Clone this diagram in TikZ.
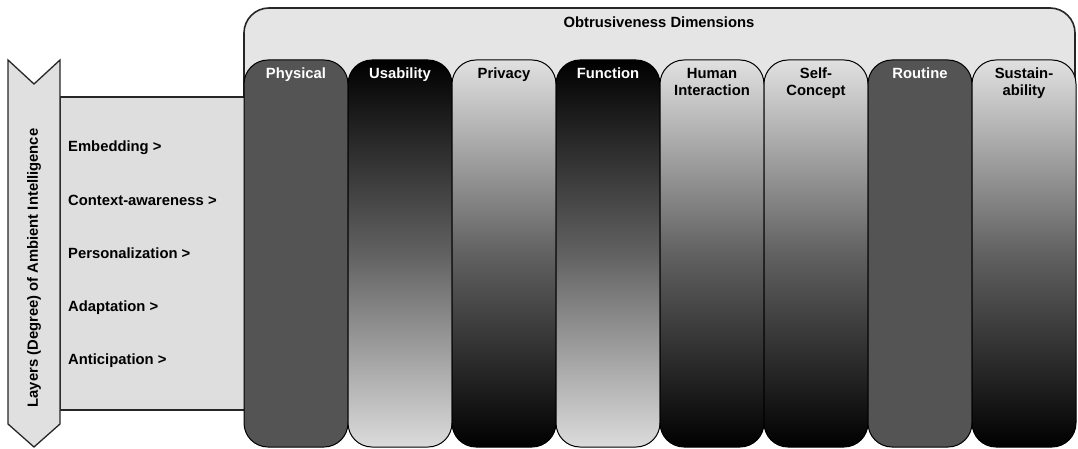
\documentclass[tikz,border=0pt]{standalone}
\usepackage{fontspec}
\setmainfont{Liberation Sans}
\usetikzlibrary{positioning}

\tikzset{
	lbl/.style={font=\bfseries\fontsize{14.8}{17}\selectfont, inner sep=0pt},
	frame/.style={draw=black!85, line width=1.6pt},
	darklight/.style={top color=black, bottom color=black!14, middle color=black!62},
	lightdark/.style={top color=black!12, bottom color=black, middle color=black!62},
	flat/.style={fill=black!67},
	column/.style={draw=black, line width=1pt, rounded corners=24pt}
}

\begin{document}
\begin{tikzpicture}[x=1pt, y=-1pt]
		
		\useasboundingbox (0,0) rectangle (1078,449);
		
		%Dimensions frame
		\draw[frame, fill=black!10, rounded corners=25pt] (244,8) rectangle (1075,400);
		\node[lbl] (title) at (659,22) {Obtrusiveness Dimensions};
		
		%Layers box and arrow
		\draw[frame, fill=black!13] (60,97) rectangle (250,410);
		\draw[draw=black!85, line width=1.3pt, fill=black!12] (8,60) -- (34,84) -- (60,60) 
		-- (60,424) -- (34,447) -- (8,424) -- cycle;
		\node[lbl, rotate=90] (layers) at (34,268) {Layers (Degree) of Ambient Intelligence};
		
		%Layers
		\foreach \j/\lay in {0/Embedding, 1/Context-awareness, 2/Personalization, 
			3/Adaptation, 4/Anticipation}
		\node[lbl, anchor=base west] (lay\j) at (68,152+\j*53) {\lay{} >};
		
		%Columns
		\foreach \i/\name/\sty/\tcol/\txt in {0/phys/flat/white/Physical, 
			1/usab/darklight/white/Usability, 2/priv/lightdark/black/Privacy, 
			3/func/darklight/white/Function, 4/hint/lightdark/black/{Human\\Interaction}, 
			5/self/lightdark/black/{Self-\\Concept}, 6/rout/flat/white/Routine, 
			7/sust/lightdark/black/{Sustain-\\ability}}
		{
			\draw[column, \sty] (244+\i*104,60) rectangle ++(104,387);
			\node[lbl, text=\tcol, align=center, anchor=north] (\name) at (296+\i*104,68) {\txt};
		}
		
\end{tikzpicture}
\end{document}
